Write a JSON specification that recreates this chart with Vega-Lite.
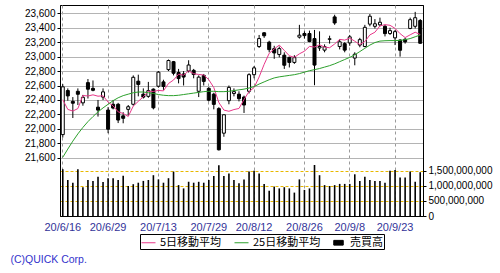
{
  "$schema": "https://vega.github.io/schema/vega-lite/v6.json",
  "width": 363,
  "height": 211,
  "autosize": "none",
  "padding": {"left": 60, "top": 5, "right": 77, "bottom": 57},
  "background": "white",
  "config": {"view": {"stroke": "#000", "strokeWidth": 1}, "font": "Liberation Sans"},
  "title": {"text": "(C)QUICK Corp.", "orient": "bottom", "anchor": "start", "color": "#3333cc", "fontSize": 10.5, "fontWeight": "normal", "font": "Liberation Sans", "dx": -14, "offset": 5},
  "data": {"values": [
    {"d": "20/6/16", "o": 21920, "h": 22620, "l": 21880, "c": 22582, "m5": 22403, "m25": 21606, "v": 1560000000},
    {"d": "20/6/17", "o": 22530, "h": 22560, "l": 22390, "c": 22456, "m5": 22269, "m25": 21720, "v": 1200000000},
    {"d": "20/6/18", "o": 22380, "h": 22440, "l": 22150, "c": 22355, "m5": 22246, "m25": 21830, "v": 1110000000},
    {"d": "20/6/19", "o": 22520, "h": 22560, "l": 22330, "c": 22479, "m5": 22281, "m25": 21930, "v": 1560000000},
    {"d": "20/6/22", "o": 22360, "h": 22470, "l": 22320, "c": 22437, "m5": 22462, "m25": 22020, "v": 960000000},
    {"d": "20/6/23", "o": 22640, "h": 22690, "l": 22420, "c": 22549, "m5": 22455, "m25": 22100, "v": 1200000000},
    {"d": "20/6/24", "o": 22560, "h": 22670, "l": 22520, "c": 22534, "m5": 22471, "m25": 22170, "v": 1170000000},
    {"d": "20/6/25", "o": 22300, "h": 22400, "l": 22170, "c": 22260, "m5": 22452, "m25": 22235, "v": 1310000000},
    {"d": "20/6/26", "o": 22440, "h": 22560, "l": 22400, "c": 22512, "m5": 22458, "m25": 22290, "v": 1130000000},
    {"d": "20/6/29", "o": 22260, "h": 22300, "l": 21940, "c": 21995, "m5": 22370, "m25": 22340, "v": 1260000000},
    {"d": "20/6/30", "o": 22340, "h": 22400, "l": 22270, "c": 22288, "m5": 22318, "m25": 22390, "v": 1260000000},
    {"d": "20/7/1", "o": 22340, "h": 22360, "l": 22080, "c": 22122, "m5": 22235, "m25": 22430, "v": 1200000000},
    {"d": "20/7/2", "o": 22180, "h": 22230, "l": 22077, "c": 22146, "m5": 22213, "m25": 22460, "v": 1340000000},
    {"d": "20/7/3", "o": 22270, "h": 22330, "l": 22180, "c": 22306, "m5": 22171, "m25": 22480, "v": 1000000000},
    {"d": "20/7/6", "o": 22340, "h": 22740, "l": 22320, "c": 22714, "m5": 22315, "m25": 22500, "v": 1060000000},
    {"d": "20/7/7", "o": 22660, "h": 22750, "l": 22450, "c": 22615, "m5": 22381, "m25": 22510, "v": 1110000000},
    {"d": "20/7/8", "o": 22480, "h": 22560, "l": 22420, "c": 22439, "m5": 22444, "m25": 22510, "v": 1170000000},
    {"d": "20/7/9", "o": 22450, "h": 22650, "l": 22430, "c": 22529, "m5": 22521, "m25": 22500, "v": 1200000000},
    {"d": "20/7/10", "o": 22550, "h": 22560, "l": 22270, "c": 22291, "m5": 22518, "m25": 22490, "v": 1360000000},
    {"d": "20/7/13", "o": 22590, "h": 22800, "l": 22570, "c": 22785, "m5": 22532, "m25": 22475, "v": 1220000000},
    {"d": "20/7/14", "o": 22650, "h": 22680, "l": 22540, "c": 22587, "m5": 22526, "m25": 22465, "v": 1110000000},
    {"d": "20/7/15", "o": 22820, "h": 22960, "l": 22800, "c": 22946, "m5": 22628, "m25": 22460, "v": 1260000000},
    {"d": "20/7/16", "o": 22930, "h": 22940, "l": 22740, "c": 22770, "m5": 22676, "m25": 22460, "v": 1480000000},
    {"d": "20/7/17", "o": 22780, "h": 22830, "l": 22630, "c": 22696, "m5": 22757, "m25": 22465, "v": 1030000000},
    {"d": "20/7/20", "o": 22760, "h": 22800, "l": 22600, "c": 22717, "m5": 22743, "m25": 22475, "v": 920000000},
    {"d": "20/7/21", "o": 22800, "h": 22950, "l": 22780, "c": 22884, "m5": 22803, "m25": 22485, "v": 1140000000},
    {"d": "20/7/22", "o": 22810, "h": 22830, "l": 22700, "c": 22752, "m5": 22764, "m25": 22495, "v": 1110000000},
    {"d": "20/7/27", "o": 22520, "h": 22740, "l": 22440, "c": 22716, "m5": 22753, "m25": 22505, "v": 1140000000},
    {"d": "20/7/28", "o": 22740, "h": 22760, "l": 22600, "c": 22657, "m5": 22745, "m25": 22515, "v": 1110000000},
    {"d": "20/7/29", "o": 22560, "h": 22580, "l": 22380, "c": 22397, "m5": 22681, "m25": 22520, "v": 1200000000},
    {"d": "20/7/30", "o": 22480, "h": 22500, "l": 22270, "c": 22339, "m5": 22572, "m25": 22520, "v": 1330000000},
    {"d": "20/7/31", "o": 22280, "h": 22300, "l": 21700, "c": 21710, "m5": 22364, "m25": 22515, "v": 1690000000},
    {"d": "20/8/3", "o": 21940, "h": 22200, "l": 21890, "c": 22195, "m5": 22260, "m25": 22515, "v": 1330000000},
    {"d": "20/8/4", "o": 22390, "h": 22600, "l": 22340, "c": 22574, "m5": 22243, "m25": 22520, "v": 1420000000},
    {"d": "20/8/5", "o": 22490, "h": 22560, "l": 22450, "c": 22515, "m5": 22267, "m25": 22530, "v": 1200000000},
    {"d": "20/8/6", "o": 22480, "h": 22520, "l": 22380, "c": 22418, "m5": 22282, "m25": 22540, "v": 1090000000},
    {"d": "20/8/7", "o": 22440, "h": 22460, "l": 22220, "c": 22330, "m5": 22406, "m25": 22550, "v": 1220000000},
    {"d": "20/8/11", "o": 22520, "h": 22770, "l": 22490, "c": 22750, "m5": 22517, "m25": 22565, "v": 1480000000},
    {"d": "20/8/12", "o": 22750, "h": 22870, "l": 22700, "c": 22844, "m5": 22571, "m25": 22585, "v": 1510000000},
    {"d": "20/8/13", "o": 23140, "h": 23300, "l": 23120, "c": 23250, "m5": 22718, "m25": 22620, "v": 1420000000},
    {"d": "20/8/14", "o": 23330, "h": 23340, "l": 23260, "c": 23289, "m5": 22893, "m25": 22650, "v": 1070000000},
    {"d": "20/8/17", "o": 23200, "h": 23220, "l": 23060, "c": 23097, "m5": 23046, "m25": 22680, "v": 840000000},
    {"d": "20/8/18", "o": 23110, "h": 23150, "l": 22970, "c": 23051, "m5": 23106, "m25": 22705, "v": 980000000},
    {"d": "20/8/19", "o": 23030, "h": 23140, "l": 22990, "c": 23111, "m5": 23160, "m25": 22720, "v": 920000000},
    {"d": "20/8/20", "o": 23020, "h": 23060, "l": 22830, "c": 22881, "m5": 23086, "m25": 22730, "v": 960000000},
    {"d": "20/8/21", "o": 22990, "h": 23000, "l": 22850, "c": 22920, "m5": 23012, "m25": 22740, "v": 920000000},
    {"d": "20/8/24", "o": 22920, "h": 23020, "l": 22900, "c": 22986, "m5": 22990, "m25": 22750, "v": 780000000},
    {"d": "20/8/25", "o": 23270, "h": 23440, "l": 23250, "c": 23297, "m5": 23039, "m25": 22765, "v": 1220000000},
    {"d": "20/8/26", "o": 23320, "h": 23350, "l": 23250, "c": 23291, "m5": 23075, "m25": 22785, "v": 870000000},
    {"d": "20/8/27", "o": 23320, "h": 23360, "l": 23200, "c": 23209, "m5": 23141, "m25": 22805, "v": 920000000},
    {"d": "20/8/28", "o": 23250, "h": 23370, "l": 22604, "c": 22883, "m5": 23133, "m25": 22820, "v": 1700000000},
    {"d": "20/8/31", "o": 23120, "h": 23350, "l": 23080, "c": 23140, "m5": 23164, "m25": 22835, "v": 1360000000},
    {"d": "20/9/1", "o": 23090, "h": 23170, "l": 23060, "c": 23138, "m5": 23132, "m25": 22855, "v": 1030000000},
    {"d": "20/9/2", "o": 23240, "h": 23290, "l": 23180, "c": 23247, "m5": 23123, "m25": 22875, "v": 1000000000},
    {"d": "20/9/3", "o": 23550, "h": 23580, "l": 23440, "c": 23466, "m5": 23175, "m25": 22900, "v": 1030000000},
    {"d": "20/9/4", "o": 23140, "h": 23240, "l": 23100, "c": 23205, "m5": 23239, "m25": 22930, "v": 1070000000},
    {"d": "20/9/7", "o": 23180, "h": 23200, "l": 23060, "c": 23090, "m5": 23229, "m25": 22960, "v": 1070000000},
    {"d": "20/9/8", "o": 23190, "h": 23300, "l": 23150, "c": 23274, "m5": 23256, "m25": 22990, "v": 1070000000},
    {"d": "20/9/9", "o": 22980, "h": 23060, "l": 22880, "c": 23033, "m5": 23214, "m25": 23025, "v": 1390000000},
    {"d": "20/9/10", "o": 23160, "h": 23260, "l": 23130, "c": 23235, "m5": 23167, "m25": 23070, "v": 1170000000},
    {"d": "20/9/11", "o": 23140, "h": 23440, "l": 23130, "c": 23406, "m5": 23208, "m25": 23115, "v": 1310000000},
    {"d": "20/9/14", "o": 23450, "h": 23590, "l": 23420, "c": 23559, "m5": 23301, "m25": 23160, "v": 1200000000},
    {"d": "20/9/15", "o": 23420, "h": 23520, "l": 23390, "c": 23455, "m5": 23338, "m25": 23195, "v": 1170000000},
    {"d": "20/9/16", "o": 23440, "h": 23540, "l": 23420, "c": 23476, "m5": 23426, "m25": 23215, "v": 1170000000},
    {"d": "20/9/17", "o": 23420, "h": 23440, "l": 23280, "c": 23319, "m5": 23443, "m25": 23220, "v": 1110000000},
    {"d": "20/9/18", "o": 23320, "h": 23400, "l": 23300, "c": 23360, "m5": 23434, "m25": 23222, "v": 1510000000},
    {"d": "20/9/23", "o": 23260, "h": 23370, "l": 23160, "c": 23346, "m5": 23391, "m25": 23222, "v": 1530000000},
    {"d": "20/9/24", "o": 23230, "h": 23240, "l": 23000, "c": 23088, "m5": 23318, "m25": 23225, "v": 1280000000},
    {"d": "20/9/25", "o": 23240, "h": 23260, "l": 23180, "c": 23205, "m5": 23264, "m25": 23235, "v": 1280000000},
    {"d": "20/9/28", "o": 23390, "h": 23540, "l": 23380, "c": 23512, "m5": 23302, "m25": 23250, "v": 1480000000},
    {"d": "20/9/29", "o": 23420, "h": 23620, "l": 23390, "c": 23539, "m5": 23338, "m25": 23275, "v": 1140000000},
    {"d": "20/9/30", "o": 23500, "h": 23520, "l": 23180, "c": 23185, "m5": 23306, "m25": 23300, "v": 1460000000}
  ]},
  "encoding": {
    "x": {
      "field": "d", "type": "ordinal", "sort": null,
      "scale": {"paddingInner": 0, "paddingOuter": 0.05},
      "axis": {
        "values": ["20/6/16", "20/6/29", "20/7/13", "20/7/29", "20/8/12", "20/8/26", "20/9/8", "20/9/23"],
        "bandPosition": 0.5, "title": null, "labelAngle": 0,
        "grid": true, "gridDash": [3, 3], "gridColor": "#9a9a9a",
        "ticks": false, "labelPadding": 5, "labelColor": "#333399",
        "labelFontSize": 11, "labelFont": "Liberation Sans", "domainColor": "#000"
      }
    }
  },
  "layer": [
    {
      "layer": [
        {
          "mark": {"type": "rule", "color": "#000", "strokeWidth": 1},
          "encoding": {
            "y": {"field": "l", "type": "quantitative",
              "scale": {"domain": [20793, 23715], "nice": false, "zero": false},
              "axis": {"title": null, "values": [21600, 21800, 22000, 22200, 22400, 22600, 22800, 23000, 23200, 23400, 23600],
                "labelExpr": "format(datum.value, ',')", "labelOverlap": false, "grid": true, "gridColor": "#b4b4b4", "tickSize": 3, "tickColor": "#000",
                "domainColor": "#000", "labelFontSize": 10, "labelColor": "#000", "labelPadding": 2, "labelFont": "Liberation Sans"}},
            "y2": {"field": "h"}
          }
        },
        {
          "mark": {"type": "bar", "size": 3, "stroke": "#000", "strokeWidth": 1},
          "encoding": {
            "y": {"field": "o", "type": "quantitative",
              "axis": {"title": null, "values": [21600, 21800, 22000, 22200, 22400, 22600, 22800, 23000, 23200, 23400, 23600],
                "labelExpr": "format(datum.value, ',')", "labelOverlap": false, "grid": true, "gridColor": "#b4b4b4", "tickSize": 3, "tickColor": "#000",
                "domainColor": "#000", "labelFontSize": 10, "labelColor": "#000", "labelPadding": 2, "labelFont": "Liberation Sans"}},
            "y2": {"field": "c"},
            "fill": {"condition": {"test": "datum.c >= datum.o", "value": "#ffffff"}, "value": "#000000"}
          }
        },
        {
          "mark": {"type": "line", "strokeWidth": 1},
          "encoding": {
            "y": {"field": "m5", "type": "quantitative",
              "axis": {"title": null, "values": [21600, 21800, 22000, 22200, 22400, 22600, 22800, 23000, 23200, 23400, 23600],
                "labelExpr": "format(datum.value, ',')", "labelOverlap": false, "grid": true, "gridColor": "#b4b4b4", "tickSize": 3, "tickColor": "#000",
                "domainColor": "#000", "labelFontSize": 10, "labelColor": "#000", "labelPadding": 2, "labelFont": "Liberation Sans"}},
            "color": {"datum": "5日移動平均"}
          }
        },
        {
          "mark": {"type": "line", "strokeWidth": 1},
          "encoding": {
            "y": {"field": "m25", "type": "quantitative",
              "axis": {"title": null, "values": [21600, 21800, 22000, 22200, 22400, 22600, 22800, 23000, 23200, 23400, 23600],
                "labelExpr": "format(datum.value, ',')", "labelOverlap": false, "grid": true, "gridColor": "#b4b4b4", "tickSize": 3, "tickColor": "#000",
                "domainColor": "#000", "labelFontSize": 10, "labelColor": "#000", "labelPadding": 2, "labelFont": "Liberation Sans"}},
            "color": {"datum": "25日移動平均"}
          }
        }
      ]
    },
    {
      "mark": {"type": "bar", "size": 1.6},
      "encoding": {
        "y": {"field": "v", "type": "quantitative",
          "scale": {"domain": [0, 7033000000], "nice": false},
          "axis": {"orient": "right", "title": null, "values": [0, 500000000, 1000000000, 1500000000],
            "labelExpr": "format(datum.value, ',')", "labelOverlap": false,
            "grid": true, "gridColor": "#e8b800", "gridOpacity": 1, "gridWidth": 1, "gridDash": [3, 2], "tickSize": 3, "tickColor": "#000",
            "domainColor": "#000", "labelFontSize": 10, "labelColor": "#000", "labelPadding": 2, "labelFont": "Liberation Sans"}},
        "color": {"datum": "売買高",
          "scale": {"domain": ["5日移動平均", "25日移動平均", "売買高"], "range": ["#e8388a", "#2ca02c", "#000000"]},
          "legend": {
            "orient": "none", "legendX": 80, "legendY": 229, "direction": "horizontal", "title": null,
            "strokeColor": "#000", "fillColor": "#fff", "padding": 1,
            "labelFont": "Noto Sans CJK JP", "labelFontSize": 11, "labelColor": "#000",
            "symbolType": "stroke", "symbolStrokeWidth": 1, "symbolSize": 196, "columnPadding": 10, "labelOffset": 4,
            "encode": {"symbols": {"update": {
              "shape": {"signal": "datum.value === '売買高' ? 'M-1,-0.5H1V0.5H-1Z' : 'stroke'"},
              "fill": {"signal": "datum.value === '売買高' ? '#000' : 'transparent'"},
              "size": {"signal": "datum.value === '売買高' ? 90 : 196"}
            }}}
          }
        }
      }
    }
  ],
  "resolve": {"scale": {"y": "independent"}, "axis": {"y": "independent"}}
}
